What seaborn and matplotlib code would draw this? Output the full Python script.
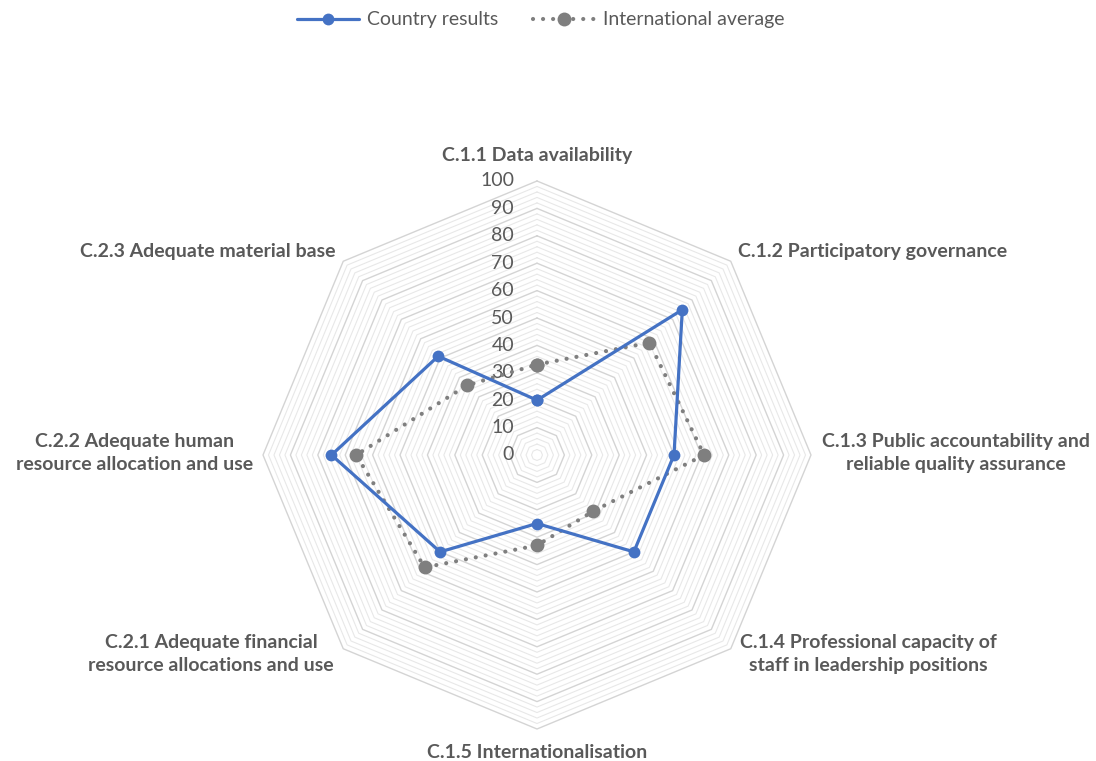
import numpy as np
import pandas as pd
import matplotlib
matplotlib.use("Agg")
import matplotlib.pyplot as plt
import seaborn as sns
from matplotlib.lines import Line2D

categories = [
    "C.1.1 Data availability",
    "C.1.2 Participatory governance",
    "C.1.3 Public accountability and\nreliable quality assurance",
    "C.1.4 Professional capacity of\nstaff in leadership positions",
    "C.1.5 Internationalisation",
    "C.2.1 Adequate financial\nresource allocations and use",
    "C.2.2 Adequate human\nresource allocation and use",
    "C.2.3 Adequate material base",
]
country_results = [20, 75, 50, 50, 25, 50, 75, 51]
international_average = [33, 58, 61, 29, 33, 58, 66, 36]
radial_ticks = [0, 10, 20, 30, 40, 50, 60, 70, 80, 90, 100]
series_names = ["Country results", "International average"]

sns.set_theme(style="white")
plt.rcParams["font.family"] = ["Lato", "DejaVu Sans"]

TXT = "#595959"
BLUE = "#4472C4"
GRAY = "#7F7F7F"

n = len(categories)
angles = np.deg2rad(90 - np.arange(n) * 360.0 / n)

def to_xy(vals):
    v = np.asarray(vals, dtype=float)
    return v * np.cos(angles), v * np.sin(angles)

fig = plt.figure(figsize=(10.96, 7.61), dpi=100)
ax = fig.add_axes([0, 0, 1, 1])
scale = 2.74  # px per unit
cx, cy = 537, 455
ax.set_xlim(-cx / scale, (1096 - cx) / scale)
ax.set_ylim(-(761 - cy) / scale, cy / scale)
ax.axis("off")

# polygon grid
for r in range(2, 101, 2):
    gx, gy = to_xy([r] * n)
    gx = np.append(gx, gx[0]); gy = np.append(gy, gy[0])
    if r % 10 == 0:
        ax.plot(gx, gy, color="#d4d4d4", lw=1.0, zorder=1)
    else:
        ax.plot(gx, gy, color="#e8e8e8", lw=0.8, zorder=0.9)

# radial tick labels
for t in radial_ticks:
    ax.text(-23 / scale, t, str(t), ha="right", va="center",
            fontsize=14, color=TXT, zorder=3)

# data
frames = []
for name, vals in zip(series_names, [country_results, international_average]):
    x, y = to_xy(vals)
    x = np.append(x, x[0]); y = np.append(y, y[0])
    frames.append(pd.DataFrame({"x": x, "y": y, "series": name}))
df = pd.concat(frames, ignore_index=True)

sns.lineplot(data=df[df.series == "International average"], x="x", y="y", sort=False,
             ax=ax, color=GRAY, lw=3.0, linestyle=(0, (0.01, 2.4)),
             dash_capstyle="round", marker="o", markersize=10,
             markeredgewidth=0, zorder=4, legend=False, estimator=None)
sns.lineplot(data=df[df.series == "Country results"], x="x", y="y", sort=False,
             ax=ax, color=BLUE, lw=2.3, marker="o", markersize=8.5,
             markeredgewidth=0, zorder=5, legend=False, estimator=None)
ax.set_xlabel(""); ax.set_ylabel("")

# category labels
label_pos = [
    (537, 155, "center"),
    (738, 251, "left"),
    (822, 453, "left"),
    (740, 654, "left"),
    (537, 752, "center"),
    (334, 654, "right"),
    (253, 453, "right"),
    (336, 251, "right"),
]
for cat, (px, py, ha) in zip(categories, label_pos):
    ax.text((px - cx) / scale, (cy - py) / scale, cat, ha=ha, va="center",
            multialignment="center", fontsize=14, fontweight="bold",
            color=TXT, linespacing=1.45)

handles = [
    Line2D([], [], color=BLUE, lw=2.3, marker="o", markersize=8.5, markeredgewidth=0),
    Line2D([], [], color=GRAY, lw=3.0, linestyle=(0, (0.01, 2.4)), dash_capstyle="round",
           marker="o", markersize=10, markeredgewidth=0),
]
fig.legend(handles, series_names, loc="center", bbox_to_anchor=(541 / 1096, 1 - 20 / 761),
           ncol=2, frameon=False, fontsize=14, labelcolor=TXT, handlelength=3.2,
           columnspacing=1.8, handletextpad=0.4)

fig.savefig("out.png", dpi=100)
